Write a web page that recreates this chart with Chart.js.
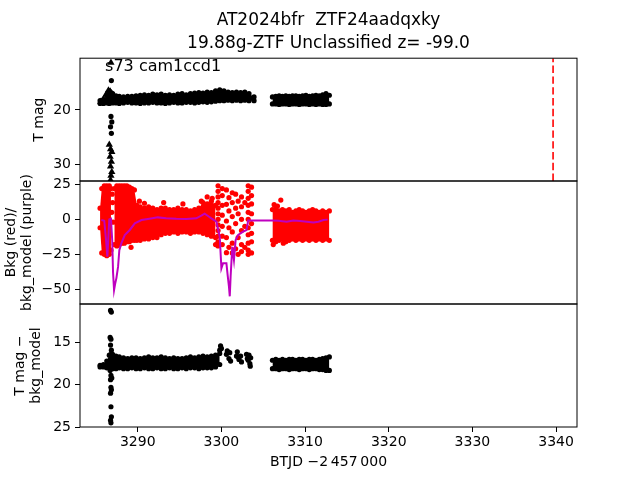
<!DOCTYPE html>
<html>
<head>
<meta charset="utf-8">
<script src="https://cdn.jsdelivr.net/npm/chart.js@4.4.1/dist/chart.umd.min.js"></script>
<style>
	body { margin: 0; background: #fff; }
	#wrap { position: relative; width: 640px; height: 480px; overflow: hidden; }
	#wrap canvas { position: absolute; left: 0; }
</style>
</head>
<body>
<div id="wrap">
	<canvas id="magChart" width="640" height="186" style="top:0"></canvas>
	<canvas id="bkgChart" width="640" height="163" style="top:161px"></canvas>
	<canvas id="diffChart" width="640" height="181" style="top:299px"></canvas>
</div>
<script>
// BTJD - 2457000
const xRange = [3283.1, 3342.5];
const xTicks = [3290, 3300, 3310, 3320, 3330, 3340];
const magRange = [10.48, 33.07];
const magTicks = [20, 30];
const bkgRange = [-60.5, 27.4];
const bkgTicks = [25, 0, -25, -50];
const diffRange = [10.44, 25.0];
const diffTicks = [15, 20, 25];

const alertT = 3339.64;
const sectorText = "s73 cam1ccd1";
const sectorAt = [3286.1, 12.76];

// dense stretches of the sector, sampled along their upper / lower edge
const tOrbit1 = [3285.5, 3285.9, 3286.3, 3286.6, 3287.0, 3287.4, 3287.8, 3288.3, 3288.8, 3289.3, 3289.8, 3290.3, 3290.8, 3291.3, 3291.8, 3292.3, 3292.8, 3293.3, 3293.8, 3294.3, 3294.8, 3295.3, 3295.8, 3296.3, 3296.8, 3297.3, 3297.8, 3298.3, 3298.8, 3299.3, 3299.8];
const tOrbit1b = [3300.3, 3300.8, 3301.3, 3301.8, 3302.3, 3302.8, 3303.3, 3303.9];
const tOrbit2 = [3306.1, 3306.5, 3306.9, 3307.3, 3307.7, 3308.1, 3308.5, 3308.9, 3309.3, 3309.7, 3310.1, 3310.5, 3310.9, 3311.3, 3311.7, 3312.1, 3312.5, 3312.9];

// T mag
const magHi1 = [18.3, 18.1, 17.3, 16.5, 17.0, 17.4, 17.5, 17.6, 17.5, 17.5, 17.4, 17.3, 17.2, 17.3, 17.1, 17.2, 17.1, 17.3, 17.2, 17.3, 17.1, 17.0, 17.2, 17.0, 16.9, 16.8, 16.9, 16.7, 16.8, 16.5, 16.3, 16.5, 16.7, 16.8, 16.7, 16.8, 16.7, 17.0, 17.6];
const magLo1 = [18.8, 18.8, 18.7, 18.8, 18.7, 18.7, 18.8, 18.7, 18.6, 18.7, 18.7, 18.8, 18.7, 18.7, 18.6, 18.7, 18.7, 18.8, 18.7, 18.6, 18.7, 18.7, 18.6, 18.6, 18.7, 18.6, 18.5, 18.6, 18.5, 18.4, 18.3, 18.3, 18.2, 18.3, 18.2, 18.3, 18.2, 18.3, 18.3];
const magHi2 = [17.6, 17.5, 17.4, 17.5, 17.4, 17.5, 17.4, 17.4, 17.5, 17.4, 17.3, 17.5, 17.4, 17.3, 17.4, 17.2, 17.0, 17.3];
const magLo2 = [18.9, 18.9, 19.0, 18.9, 18.9, 19.0, 18.9, 18.9, 19.0, 18.9, 18.9, 19.0, 18.9, 19.0, 18.9, 19.0, 19.0, 18.9];
const magPoints = [[3286.85, 14.6], [3286.8, 21.2], [3286.9, 22.2], [3286.75, 23.1], [3286.85, 24.3]];
const magLimits = [[3286.8, 11.3], [3285.6, 18.5], [3285.9, 18.0], [3286.2, 17.2], [3286.5, 16.4], [3286.7, 16.6], [3287.0, 17.1], [3286.6, 26.4], [3286.75, 27.2], [3286.9, 27.7], [3286.7, 28.6], [3286.85, 29.5], [3286.75, 30.4], [3286.9, 31.4], [3286.8, 32.1], [3286.75, 32.9]];

// background flux (red) and background model (purple)
const tBkg0 = [3285.5, 3285.7, 3286.0, 3286.3, 3286.6, 3286.8];
const bkgHi0 = [8, 22, 24, 24, 24, 22];
const bkgLo0 = [-6, -24, -25, -26, -25, -22];
const tBkg1 = [3287.2, 3287.5, 3287.8, 3288.1, 3288.4, 3288.7, 3289.0, 3289.3, 3289.6, 3289.9, 3290.3, 3290.8, 3291.3, 3291.8, 3292.3, 3292.8, 3293.3, 3293.8, 3294.3, 3294.8, 3295.3, 3295.8, 3296.3, 3296.8, 3297.3, 3297.8, 3298.3, 3298.8, 3299.3];
const bkgHi1 = [22, 24, 24, 24, 24, 24, 23, 22, 21, 10, 9, 8, 9, 8, 7, 8, 8, 7, 7, 8, 7, 7, 6, 7, 8, 12, 11, 13, 10];
const bkgLo1 = [-18, -19, -18, -17, -17, -16, -16, -15, -15, -15, -15, -14, -14, -13, -13, -11, -10, -10, -9, -10, -9, -9, -10, -9, -9, -10, -11, -12, -13];
const bkgHi2 = [7, 8, 6, 7, 6, 7, 5, 6, 7, 6, 5, 6, 7, 6, 5, 6, 5, 6];
const bkgLo2 = [-15, -16, -15, -14, -16, -15, -14, -15, -14, -15, -14, -15, -14, -15, -14, -15, -14, -15];
const bkgPoints = [
	[3286.95, 18], [3287.0, 12], [3286.9, 5], [3287.05, -2],
	[3290.2, 13], [3290.8, 11.5], [3293.1, 12], [3295.4, 11], [3297.6, 13], [3298.3, 16], [3298.9, 15], [3289.2, -20], [3299.3, -18],
	[3299.6, 24], [3299.6, 20], [3299.6, 16], [3299.6, 12], [3299.6, 8], [3299.6, 4], [3299.6, 0], [3299.6, -4], [3299.6, -8], [3299.6, -12], [3299.6, -16], [3299.6, -19],
	[3300.1, 22], [3300.1, 17], [3300.1, 10], [3300.1, 3], [3300.1, -5], [3300.1, -12], [3300.1, -18],
	[3300.6, 21], [3300.6, 10.7], [3300.6, -1.2], [3300.6, -13], [3300.6, -23.8],
	[3300.9, 15.5], [3300.9, 6], [3300.9, -6], [3300.9, -20],
	[3301.3, 19], [3301.3, 12], [3301.3, 2], [3301.3, -9], [3301.3, -17], [3301.3, -24],
	[3301.7, 18], [3301.7, 8], [3301.7, -3], [3301.7, -21],
	[3302.0, 13], [3302.0, 4], [3302.0, -13], [3302.0, -25],
	[3302.4, 16], [3302.4, 9], [3302.4, 0], [3302.4, -8], [3302.4, -18], [3302.4, -23],
	[3302.8, 12], [3302.8, -5], [3302.8, -20],
	[3303.2, 24], [3303.2, 20], [3303.2, 15], [3303.2, 10], [3303.2, 5], [3303.2, 0], [3303.2, -6], [3303.2, -11], [3303.2, -17], [3303.2, -22], [3303.2, -25],
	[3303.6, 23], [3303.6, 17], [3303.6, 11], [3303.6, 4], [3303.6, -3], [3303.6, -10], [3303.6, -16], [3303.6, -24],
	[3306.3, 10.5], [3306.7, 9.5], [3307.1, 13.8], [3306.2, -18], [3307.4, -17],
];
const bkgModel = [
	[3285.65, -0.5], [3286.0, -1], [3286.2, -14], [3286.37, -26.7], [3286.5, -12], [3286.6, 0], [3286.8, 0.5],
	[3286.95, -15], [3287.05, -38], [3287.17, -50.5], [3287.3, -46], [3287.45, -42], [3287.65, -33.8], [3287.8, -22],
	[3288.05, -17], [3288.45, -11.2], [3289.05, -7.6], [3289.65, -2.9], [3290.45, -0.5], [3291.4, 0.5], [3292.4, 1.4],
	[3293.4, 0.8], [3294.6, 0.4], [3295.8, 0.3], [3297.0, 0.7], [3297.6, 2.6], [3298.0, 4.0], [3298.4, 2.4],
	[3298.8, 0.7], [3299.4, -1.7], [3299.8, -12.4], [3300.0, -35], [3300.2, -31.4], [3300.6, -31.4], [3300.75, -40],
	[3300.9, -48], [3301.0, -55], [3301.1, -41], [3301.3, -19.6], [3301.5, -29], [3301.7, -14.8], [3302.0, -11.2],
	[3302.6, -8.8], [3303.0, -7.6], [3303.2, -0.8], [3306.1, -0.8], [3306.8, -1.0], [3307.8, -1.7], [3308.6, -0.9],
	[3309.4, -1.2], [3310.2, -1.7], [3311.0, -2.2], [3311.6, -1.7], [3312.2, -0.5], [3312.7, -0.2],
];

// T mag - bkg_model
const diffHi1 = [17.7, 17.6, 17.2, 16.5, 16.4, 16.6, 16.7, 16.8, 16.9, 16.8, 16.8, 16.9, 16.8, 16.7, 16.8, 16.8, 16.7, 16.8, 16.9, 16.8, 16.9, 16.9, 16.8, 16.7, 16.8, 16.7, 16.6, 16.7, 16.6, 16.5, 16.3];
const diffLo1 = [17.9, 17.9, 18.0, 18.0, 18.1, 18.1, 18.0, 18.1, 18.1, 18.0, 18.1, 18.1, 18.0, 18.1, 18.1, 18.0, 18.1, 18.1, 18.0, 18.1, 18.1, 18.0, 18.1, 18.0, 18.0, 18.1, 18.0, 18.0, 18.0, 17.9, 17.6];
const diffHi2 = [17.1, 17.0, 17.1, 17.0, 17.1, 17.0, 17.0, 17.1, 17.0, 17.0, 17.1, 17.0, 17.0, 17.1, 17.0, 16.9, 16.8, 16.7];
const diffLo2 = [18.1, 18.1, 18.2, 18.1, 18.1, 18.2, 18.1, 18.1, 18.2, 18.1, 18.1, 18.2, 18.1, 18.1, 18.2, 18.2, 18.3, 18.3];
const diffPoints = [
	[3286.75, 11.2], [3286.85, 11.4], [3286.7, 14.4], [3286.8, 14.6], [3286.75, 15.3], [3286.85, 15.9], [3286.8, 16.4], [3286.85, 17.0],
	[3286.7, 18.3], [3286.8, 18.9], [3286.9, 19.2], [3286.75, 19.4], [3286.8, 20.3], [3286.85, 20.6], [3286.75, 21.0],
	[3286.8, 22.6], [3286.85, 23.8], [3286.75, 24.2], [3286.8, 24.5],
	[3299.8, 15.9], [3299.9, 15.4], [3300.0, 15.7],
	[3300.6, 16.4], [3300.7, 16.0], [3300.9, 16.9], [3301.0, 16.2], [3301.1, 17.2],
	[3301.8, 16.6], [3301.9, 16.1], [3302.0, 16.7], [3302.1, 17.0], [3302.3, 16.6], [3302.4, 17.3],
	[3303.0, 16.4], [3303.1, 16.9], [3303.2, 17.1], [3303.3, 16.5], [3303.4, 17.5], [3303.5, 16.8], [3303.45, 17.8],
];

Chart.defaults.font.family = "'DejaVu Sans', sans-serif";
Chart.defaults.font.size = 14;
Chart.defaults.color = "#000";

function xy(t, v) {
	return t.map((x, i) => ({ x: x, y: v[i] }));
}
function pairs(list) {
	return list.map((p) => ({ x: p[0], y: p[1] }));
}
function band(t, lo, hi, color) {
	return [
		{ type: "line", data: xy(t, lo), borderColor: "transparent", borderWidth: 0, backgroundColor: color, pointRadius: 2.6, pointBorderWidth: 0, fill: false },
		{ type: "line", data: xy(t, hi), borderColor: "transparent", borderWidth: 0, backgroundColor: color, pointRadius: 2.6, pointBorderWidth: 0, fill: "-1" },
	];
}
function dots(list, color, style, r) {
	return { type: "scatter", data: pairs(list), backgroundColor: color, pointStyle: style, pointRadius: r, pointBorderWidth: 0 };
}
function minus(v) {
	return String(v).replace("-", "\u2212");
}
function yAxis(range, ticks, reverse, title, pad) {
	return {
		type: "linear",
		min: range[0],
		max: range[1],
		reverse: reverse,
		afterFit: (s) => {
			s.width = 80;
			s.paddingTop = 0;
			s.paddingBottom = 0;
		},
		afterBuildTicks: (s) => { s.ticks = ticks.map((v) => ({ value: v })); },
		grid: { drawOnChartArea: false, tickLength: 5, color: "#000" },
		border: { display: false },
		ticks: { padding: 4, callback: minus },
		title: { display: true, text: title, font: { size: 14, lineHeight: 1.1 }, padding: { top: pad, bottom: 0 } },
	};
}
const hiddenX = { type: "linear", min: xRange[0], max: xRange[1], display: false };

const frame = {
	id: "frame",
	afterDraw(chart) {
		const a = chart.chartArea;
		const ctx = chart.ctx;
		ctx.save();
		ctx.strokeStyle = "#000";
		ctx.lineWidth = 1;
		ctx.strokeRect(a.left, a.top, a.right - a.left, a.bottom - a.top);
		ctx.restore();
	},
};
const sectorLabel = {
	id: "sectorLabel",
	afterDatasetsDraw(chart) {
		const ctx = chart.ctx;
		ctx.save();
		ctx.font = "16px 'DejaVu Sans'";
		ctx.fillStyle = "#000";
		ctx.textBaseline = "alphabetic";
		ctx.fillText(sectorText, chart.scales.x.getPixelForValue(sectorAt[0]), chart.scales.y.getPixelForValue(sectorAt[1]));
		ctx.restore();
	},
};
const common = {
	responsive: false,
	animation: false,
	events: [],
	plugins: { legend: { display: false }, tooltip: { enabled: false } },
};

new Chart(document.getElementById("magChart"), {
	type: "scatter",
	data: {
		datasets: [
			{
				type: "line",
				data: [{ x: alertT, y: magRange[1] }, { x: alertT, y: magRange[0] }],
				borderColor: "#ff0000",
				borderWidth: 1.6,
				borderDash: [7.4, 3.4],
				pointRadius: 0,
				fill: false,
				order: -1,
			},
			...band(tOrbit1.concat(tOrbit1b), magLo1, magHi1, "#000"),
			...band(tOrbit2, magLo2, magHi2, "#000"),
			dots(magPoints, "#000", "circle", 2.6),
			dots(magLimits, "#000", "triangle", 4.2),
		],
	},
	options: {
		...common,
		layout: { padding: { top: 0, right: 63, bottom: 5, left: 0 } },
		plugins: {
			...common.plugins,
			title: {
				display: true,
				fullSize: false,
				text: ["AT2024bfr  ZTF24aadqxky", "19.88g-ZTF Unclassified z= -99.0"],
				font: { size: 17, weight: "normal", lineHeight: 1.3 },
				padding: { top: 10, bottom: 4 },
			},
		},
		scales: {
			x: hiddenX,
			y: yAxis(magRange, magTicks, true, "T mag", 32),
		},
	},
	plugins: [frame, sectorLabel],
});

new Chart(document.getElementById("bkgChart"), {
	type: "scatter",
	data: {
		datasets: [
			{
				type: "line",
				data: pairs(bkgModel),
				borderColor: "#bf00bf",
				borderWidth: 2,
				pointRadius: 0,
				fill: false,
				order: -1,
			},
			...band(tBkg0, bkgLo0, bkgHi0, "#ff0000"),
			...band(tBkg1, bkgLo1, bkgHi1, "#ff0000"),
			...band(tOrbit2, bkgLo2, bkgHi2, "#ff0000"),
			dots(bkgPoints, "#ff0000", "circle", 2.6),
		],
	},
	options: {
		...common,
		layout: { padding: { top: 20, right: 63, bottom: 20, left: 0 } },
		scales: {
			x: hiddenX,
			y: yAxis(bkgRange, bkgTicks, false, ["Bkg (red)/", "bkg_model (purple)"], 4),
		},
	},
	plugins: [frame],
});

new Chart(document.getElementById("diffChart"), {
	type: "scatter",
	data: {
		datasets: [
			...band(tOrbit1, diffLo1, diffHi1, "#000"),
			...band(tOrbit2, diffLo2, diffHi2, "#000"),
			dots(diffPoints, "#000", "circle", 2.6),
		],
	},
	options: {
		...common,
		layout: { padding: { top: 5, right: 63, bottom: 0, left: 0 } },
		scales: {
			x: {
				type: "linear",
				min: xRange[0],
				max: xRange[1],
				afterFit: (s) => {
					s.height = 53;
					s.paddingLeft = 0;
					s.paddingRight = 0;
				},
				afterBuildTicks: (s) => { s.ticks = xTicks.map((v) => ({ value: v })); },
				grid: { drawOnChartArea: false, tickLength: 5, color: "#000" },
				border: { display: false },
				ticks: { padding: 2, maxRotation: 0, callback: (v) => String(v) },
				title: { display: true, text: "BTJD \u22122\u2009457\u2009000", padding: { top: 0, bottom: 9 } },
			},
			y: yAxis(diffRange, diffTicks, true, ["T mag \u2212", "bkg_model"], 13),
		},
	},
	plugins: [frame],
});
</script>
</body>
</html>
